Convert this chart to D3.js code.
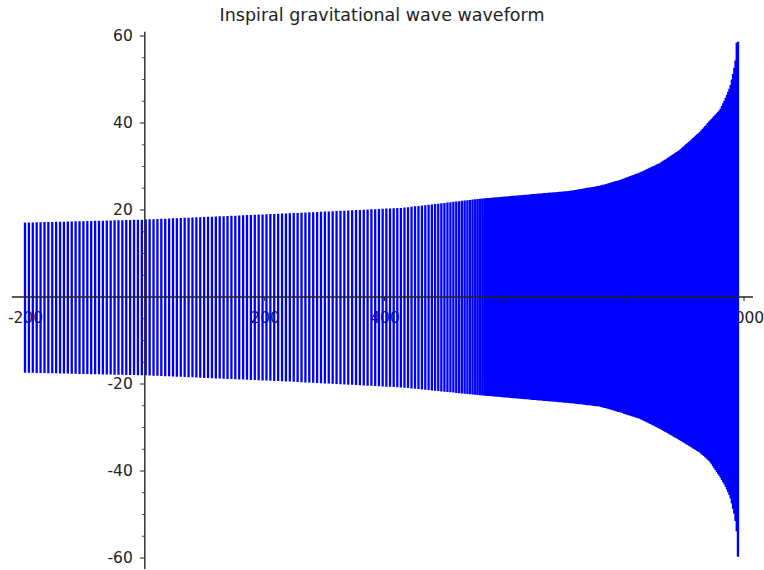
<!DOCTYPE html>
<html>
<head>
    <meta charset="utf-8">
    <title>Inspiral gravitational wave waveform</title>
    <script src="https://d3js.org/d3.v7.min.js"></script>
    <style>
        body { margin: 0; background: #fff; }
        svg text { font-family: "DejaVu Sans", sans-serif; fill: #222; }
    </style>
</head>
<body>
<svg id="chart" width="764" height="570"></svg>
<script>
    // envelope (time, amplitude)
    const upperT = [-200, 0, 100, 250, 430, 560, 710, 760, 793, 826, 860, 893, 927, 943, 960, 968, 977, 983, 986, 988, 990];
    const upperV = [17.1, 17.8, 18.4, 19.3, 20.5, 22.6, 24.4, 25.6, 26.9, 28.6, 30.8, 33.8, 38.0, 40.5, 43.0, 45.3, 48.3, 52.0, 54.5, 58.7, 58.7];
    const lowerT = [-200, 0, 250, 430, 560, 710, 760, 793, 826, 860, 893, 927, 943, 960, 968, 977, 985, 988, 990];
    const lowerV = [-17.4, -18.0, -19.5, -20.8, -22.6, -24.4, -25.2, -26.5, -28.0, -30.3, -32.9, -35.8, -37.8, -41.3, -43.2, -45.9, -50.5, -54.0, -59.7];
    // spacing between successive strokes (time units)
    const strokeT = [-200, 350, 450, 530, 580, 700, 990];
    const strokeV = [6.5, 6.5, 5.8, 4.6, 3.6, 3.0, 2.0];
    const tStart = -200, tEnd = 990;

    const xTicks = [-200, 200, 400, 600, 800, 1000];
    const yTicks = [-60, -40, -20, 20, 40, 60];
    const yMinor = [-55, -50, -45, -35, -30, -25, -15, -10, -5, 5, 10, 15, 25, 30, 35, 45, 50, 55];
    const title = "Inspiral gravitational wave waveform";

    const svg = d3.select("#chart");
    const x = d3.scaleLinear().domain([-200, 1000]).range([25, 744]);
    const y = d3.scaleLinear().domain([-60, 60]).range([558, 36]);

    const upper = d3.scaleLinear().domain(upperT).range(upperV).clamp(true);
    const lower = d3.scaleLinear().domain(lowerT).range(lowerV).clamp(true);
    const step = d3.scaleLinear().domain(strokeT).range(strokeV).clamp(true);

    // one stroke from the lower to the upper envelope per sample
    let strokes = [];
    let t = tStart;
    while (t <= tEnd) {
        strokes.push(t);
        t += step(t);
    }
    strokes.push(tEnd);

    svg.append("text")
        .attr("x", 382).attr("y", 21)
        .attr("text-anchor", "middle")
        .style("font-size", "17.5px")
        .text(title);

    // tick labels sit under the trace
    const fmt = d => String(d);
    const xLab = svg.append("g")
        .attr("transform", "translate(0," + y(0) + ")")
        .call(d3.axisBottom(x).tickValues(xTicks).tickFormat(fmt).tickSize(0).tickPadding(15));
    const yLab = svg.append("g")
        .attr("transform", "translate(" + x(0) + ",0)")
        .call(d3.axisLeft(y).tickValues(yTicks).tickFormat(fmt).tickSize(0).tickPadding(12));
    [xLab, yLab].forEach(g => {
        g.select(".domain").remove();
        g.selectAll("text").style("font-size", "15.5px").attr("fill", "#222");
    });

    const p = d3.path();
    strokes.forEach(s => {
        p.moveTo(x(s), y(upper(s)));
        p.lineTo(x(s), y(lower(s)));
    });
    svg.append("path")
        .attr("fill", "none")
        .attr("stroke", "#0000ff")
        .attr("stroke-width", 2.3)
        .attr("d", p.toString());

    // axis lines and ticks on top
    const axisCol = "#222";
    svg.append("line")
        .attr("x1", x(-222)).attr("x2", x(1015))
        .attr("y1", y(0)).attr("y2", y(0))
        .attr("stroke", axisCol).attr("stroke-width", 1.4);
    svg.append("line")
        .attr("x1", x(0)).attr("x2", x(0))
        .attr("y1", y(61)).attr("y2", y(-62.5))
        .attr("stroke", axisCol).attr("stroke-width", 1.4);

    svg.selectAll(".xt").data(xTicks).enter().append("line")
        .attr("x1", d => x(d)).attr("x2", d => x(d))
        .attr("y1", y(0)).attr("y2", y(0) + 4)
        .attr("stroke", axisCol).attr("stroke-width", 1);
    svg.selectAll(".yt").data(yTicks).enter().append("line")
        .attr("x1", x(0) - 5).attr("x2", x(0))
        .attr("y1", d => y(d)).attr("y2", d => y(d))
        .attr("stroke", axisCol).attr("stroke-width", 1);
    svg.selectAll(".ym").data(yMinor).enter().append("line")
        .attr("x1", x(0) - 3).attr("x2", x(0))
        .attr("y1", d => y(d)).attr("y2", d => y(d))
        .attr("stroke", axisCol).attr("stroke-width", 0.8);
</script>
</body>
</html>
